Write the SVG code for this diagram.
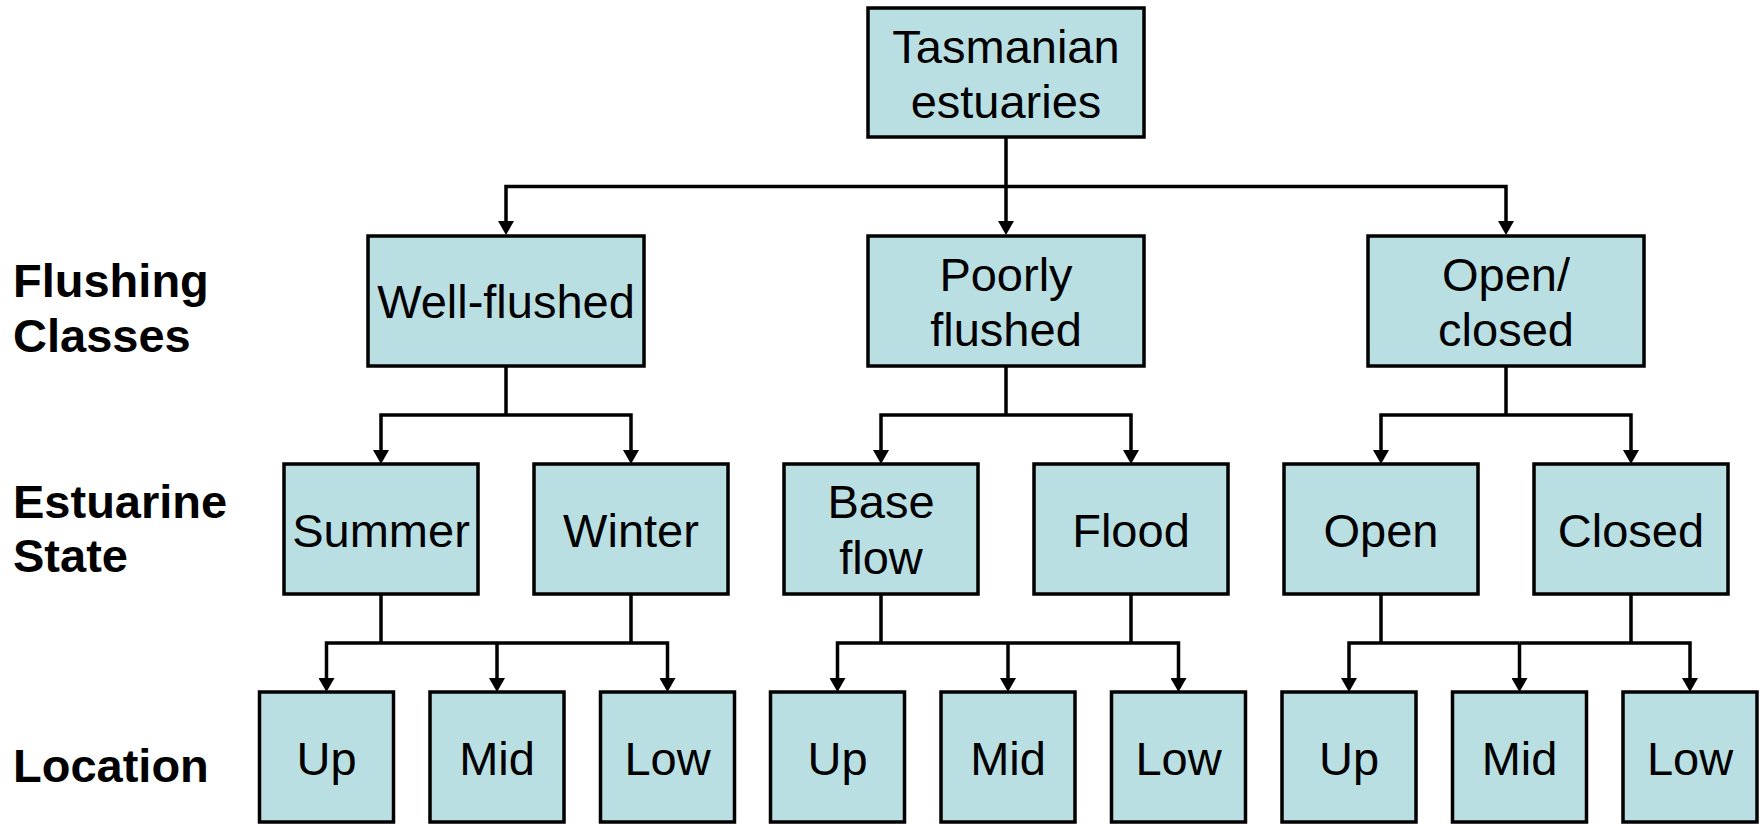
<svg xmlns="http://www.w3.org/2000/svg" width="1762" height="824" viewBox="0 0 1762 824">
<style>
.box{fill:#BADFE3;stroke:#000;stroke-width:3.5}
.t{font-family:"Liberation Sans",Arial,sans-serif;font-size:47px;text-anchor:middle;fill:#000}
.l{font-family:"Liberation Sans",Arial,sans-serif;font-size:47px;font-weight:bold;fill:#000}
.c{fill:none;stroke:#000;stroke-width:3.5;stroke-linejoin:miter}
.a{marker-end:url(#ah)}
</style>
<defs>
<marker id="ah" viewBox="0 0 14 16" refX="0" refY="8" markerWidth="14" markerHeight="16" markerUnits="userSpaceOnUse" orient="auto">
<path d="M0,0 L14,8 L0,16 Z" fill="#000"/>
</marker>
</defs>
<rect width="1762" height="824" fill="#fff"/>

<g id="labels">
<text class="l" x="13" y="297">Flushing</text>
<text class="l" x="13" y="352">Classes</text>
<text class="l" x="13" y="518">Estuarine</text>
<text class="l" x="13" y="572">State</text>
<text class="l" x="13" y="782">Location</text>
</g>

<g id="connectors">
<path class="c a" d="M1006,137 V221"/>
<path class="c a" d="M1006,186.5 H506 V221"/>
<path class="c a" d="M1006,186.5 H1506 V221"/>

<path class="c" d="M506,366 V415"/>
<path class="c a" d="M506,415 H381 V450"/>
<path class="c a" d="M506,415 H631 V450"/>
<path class="c" d="M1006,366 V415"/>
<path class="c a" d="M1006,415 H881 V450"/>
<path class="c a" d="M1006,415 H1131 V450"/>
<path class="c" d="M1506,366 V415"/>
<path class="c a" d="M1506,415 H1381 V450"/>
<path class="c a" d="M1506,415 H1631 V450"/>

<path class="c" d="M381,594 V643"/>
<path class="c" d="M631,594 V643"/>
<path class="c a" d="M497,643 H326.5 V678"/>
<path class="c a" d="M497,643 V678"/>
<path class="c a" d="M497,643 H667.5 V678"/>

<path class="c" d="M881,594 V643"/>
<path class="c" d="M1131,594 V643"/>
<path class="c a" d="M1008,643 H837.5 V678"/>
<path class="c a" d="M1008,643 V678"/>
<path class="c a" d="M1008,643 H1178.5 V678"/>

<path class="c" d="M1381,594 V643"/>
<path class="c" d="M1631,594 V643"/>
<path class="c a" d="M1519.5,643 H1349 V678"/>
<path class="c a" d="M1519.5,643 V678"/>
<path class="c a" d="M1519.5,643 H1690 V678"/>
</g>

<g id="n-tasmanian"><rect class="box" x="868" y="8" width="276" height="129"/><text class="t" x="1006" y="63">Tasmanian</text><text class="t" x="1006" y="118">estuaries</text></g>

<g id="n-well"><rect class="box" x="368" y="236" width="276" height="130"/><text class="t" x="506" y="318">Well-flushed</text></g>
<g id="n-poorly"><rect class="box" x="868" y="236" width="276" height="130"/><text class="t" x="1006" y="291">Poorly</text><text class="t" x="1006" y="346">flushed</text></g>
<g id="n-openclosed"><rect class="box" x="1368" y="236" width="276" height="130"/><text class="t" x="1506" y="291">Open/</text><text class="t" x="1506" y="346">closed</text></g>

<g id="n-summer"><rect class="box" x="284" y="464" width="194" height="130"/><text class="t" x="381" y="547">Summer</text></g>
<g id="n-winter"><rect class="box" x="534" y="464" width="194" height="130"/><text class="t" x="631" y="547">Winter</text></g>
<g id="n-base"><rect class="box" x="784" y="464" width="194" height="130"/><text class="t" x="881" y="518">Base</text><text class="t" x="881" y="574">flow</text></g>
<g id="n-flood"><rect class="box" x="1034" y="464" width="194" height="130"/><text class="t" x="1131" y="547">Flood</text></g>
<g id="n-open"><rect class="box" x="1284" y="464" width="194" height="130"/><text class="t" x="1381" y="547">Open</text></g>
<g id="n-closed"><rect class="box" x="1534" y="464" width="194" height="130"/><text class="t" x="1631" y="547">Closed</text></g>

<g id="n-up1"><rect class="box" x="259.5" y="692" width="134" height="130"/><text class="t" x="326.5" y="775">Up</text></g>
<g id="n-mid1"><rect class="box" x="430" y="692" width="134" height="130"/><text class="t" x="497" y="775">Mid</text></g>
<g id="n-low1"><rect class="box" x="600.5" y="692" width="134" height="130"/><text class="t" x="667.5" y="775">Low</text></g>
<g id="n-up2"><rect class="box" x="770.5" y="692" width="134" height="130"/><text class="t" x="837.5" y="775">Up</text></g>
<g id="n-mid2"><rect class="box" x="941" y="692" width="134" height="130"/><text class="t" x="1008" y="775">Mid</text></g>
<g id="n-low2"><rect class="box" x="1111.5" y="692" width="134" height="130"/><text class="t" x="1178.5" y="775">Low</text></g>
<g id="n-up3"><rect class="box" x="1282" y="692" width="134" height="130"/><text class="t" x="1349" y="775">Up</text></g>
<g id="n-mid3"><rect class="box" x="1452.5" y="692" width="134" height="130"/><text class="t" x="1519.5" y="775">Mid</text></g>
<g id="n-low3"><rect class="box" x="1623" y="692" width="134" height="130"/><text class="t" x="1690" y="775">Low</text></g>
</svg>
